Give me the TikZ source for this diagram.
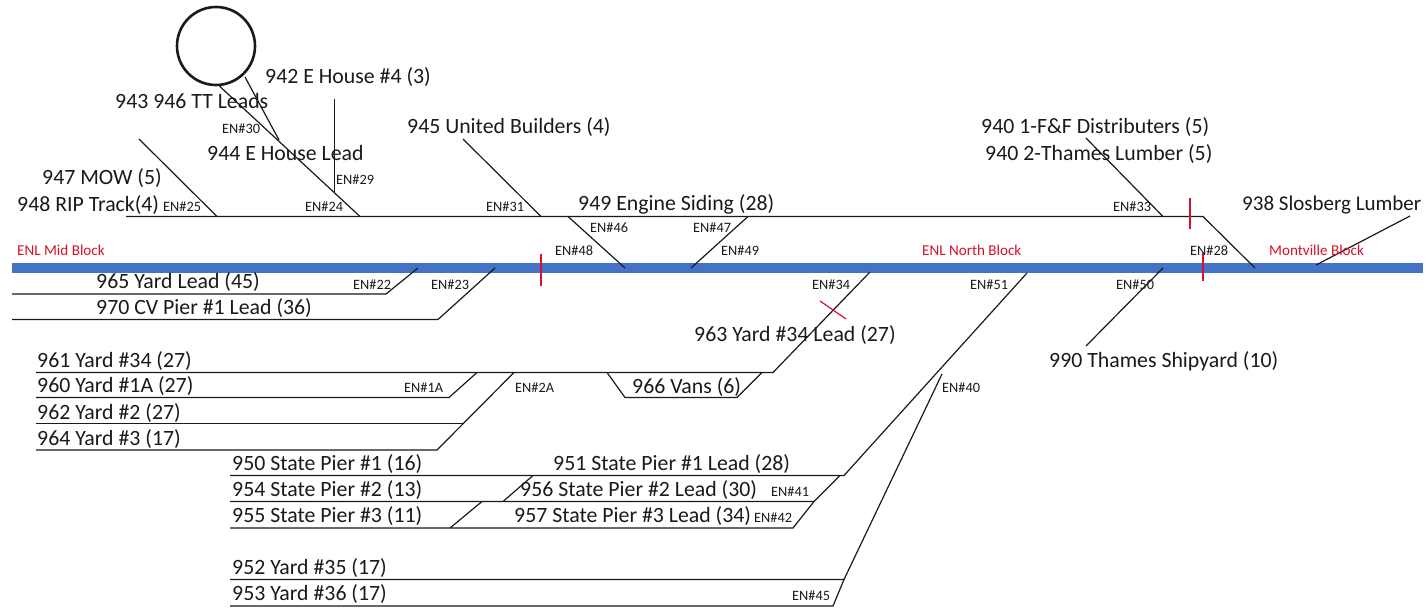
\documentclass[tikz,border=0pt]{standalone}
\usepackage{fontspec}
\setmainfont{Carlito}
\definecolor{barblue}{HTML}{4472C4}
\definecolor{ink}{HTML}{1A1A1A}
\definecolor{redtick}{HTML}{D8102C}
\tikzset{
  track/.style={draw=ink,line width=1.2pt,line join=miter},
  tick/.style={draw=redtick,line width=1.2pt},
  lbl/.style={anchor=base west,inner sep=0pt,text=ink,font=\fontsize{21.8}{24}\selectfont},
  en/.style={anchor=base west,inner sep=0pt,text=ink,font=\fontsize{14.3}{16}\selectfont},
  blk/.style={anchor=base west,inner sep=0pt,text=redtick,font=\fontsize{15.1}{17}\selectfont},
  turntable/.style={circle,draw=ink,line width=2.6pt,minimum size=78pt,inner sep=0pt}
}
\begin{document}
\begin{tikzpicture}[x=1pt,y=-1pt]
\useasboundingbox (0,0) rectangle (1427,608);
\fill[white] (0,0) rectangle (1427,608);
% main line
\fill[barblue] (12,263) rectangle (1423,273);
% turntable
\node[turntable] (tt) at (216,46) {};
% upper tracks
\coordinate (j24) at (360,216.5);
\draw[track] (126,216.5) -- (1203,216.5) -- (1255,268);
\draw[track] (tt.-85) -- (j24);
\draw[track] (245,77) -- (279,140);
\draw[track] (334.5,99) -- (334.5,192);
\draw[track] (139,139) -- (217,216.5);
\draw[track] (463,139) -- (541,216.5);
\draw[track] (568,216.5) -- (625,268);
\draw[track] (748,216.5) -- (691,268);
\draw[track] (1086,138) -- (1163,216.5);
\draw[track] (1410,216) -- (1316,265);
% lower left
\draw[track] (12,294) -- (386,294) -- (418,268);
\draw[track] (12,319.5) -- (438,319.5) -- (495,268);
\draw[track] (36,372.5) -- (773,372.5) -- (870,272);
\draw[track] (36,397.5) -- (449,397.5) -- (477,372.5);
\draw[track] (36,423.5) -- (464,423.5);
\draw[track] (36,450) -- (437,450) -- (514,372.5);
\draw[track] (607,372.5) -- (625,397.5) -- (737,397.5) -- (762,372.5);
\draw[track] (1163,268) -- (1086,346);
% state pier
\draw[track] (230,475.5) -- (844,475.5) -- (1027,273);
\draw[track] (230,501.5) -- (814,501.5) -- (840,475.5);
\draw[track] (230,528) -- (793,528) -- (814,501.5);
\draw[track] (503,501.5) -- (533,475.5);
\draw[track] (450,528) -- (482,501.5);
\draw[track] (230,579.5) -- (844,579.5) -- (942,374);
\draw[track] (230,606) -- (833,606) -- (844,579.5);
% red ticks
\draw[tick] (541,254) -- (541,286);
\draw[tick] (1190,198) -- (1190,229);
\draw[tick] (1203,253) -- (1203,281);
\draw[tick] (820,301) -- (846,319);
% labels
\node[lbl] (t942) at (265,83) {942 E House \#4 (3)};
\node[lbl] (t943) at (115,108) {943 946 TT Leads};
\node[lbl] (t944) at (207,160) {944 E House Lead};
\node[lbl] (t945) at (407,133) {945 United Builders (4)};
\node[lbl] (t947) at (42,184) {947 MOW (5)};
\node[lbl] (t948) at (17,211) {948 RIP Track(4)};
\node[lbl] (t949) at (578,210) {949 Engine Siding (28)};
\node[lbl] (t9401) at (981,133) {940 1-F\&F Distributers (5)};
\node[lbl] (t9402) at (985,160) {940 2-Thames Lumber (5)};
\node[lbl] (t938) at (1242,210) {\fontsize{21}{24}\selectfont 938 Slosberg Lumber};
\node[lbl] (t965) at (96,288) {965 Yard Lead (45)};
\node[lbl] (t970) at (96,314) {970 CV Pier \#1 Lead (36)};
\node[lbl] (t963) at (694,341) {963 Yard \#34 Lead (27)};
\node[lbl] (t990) at (1049,367) {990 Thames Shipyard (10)};
\node[lbl] (t961) at (37,367) {961 Yard \#34 (27)};
\node[lbl] (t960) at (37,392) {960 Yard \#1A (27)};
\node[lbl] (t962) at (37,419) {962 Yard \#2 (27)};
\node[lbl] (t964) at (37,445) {964 Yard \#3 (17)};
\node[lbl] (t966) at (632,393) {966 Vans (6)};
\node[lbl] (t950) at (232,470) {950 State Pier \#1 (16)};
\node[lbl] (t954) at (232,496) {954 State Pier \#2 (13)};
\node[lbl] (t955) at (232,522) {955 State Pier \#3 (11)};
\node[lbl] (t952) at (232,574) {952 Yard \#35 (17)};
\node[lbl] (t953) at (232,600) {953 Yard \#36 (17)};
\node[lbl] (t951) at (553,470) {951 State Pier \#1 Lead (28)};
\node[lbl] (t956) at (520,496) {956 State Pier \#2 Lead (30)};
\node[lbl] (t957) at (514,522) {957 State Pier \#3 Lead (34)};
% equipment numbers
\node[en] (e30) at (222,133) {EN\#30};
\node[en] (e29) at (336,184) {EN\#29};
\node[en] (e25) at (163,211) {EN\#25};
\node[en] (e24) at (305,211) {EN\#24};
\node[en] (e31) at (486,211) {EN\#31};
\node[en] (e46) at (590,232) {EN\#46};
\node[en] (e47) at (693,232) {EN\#47};
\node[en] (e48) at (555,255) {EN\#48};
\node[en] (e49) at (721,255) {EN\#49};
\node[en] (e33) at (1113,211) {EN\#33};
\node[en] (e28) at (1190,255) {EN\#28};
\node[en] (e22) at (353,289) {EN\#22};
\node[en] (e23) at (431,289) {EN\#23};
\node[en] (e34) at (812,289) {EN\#34};
\node[en] (e51) at (970,289) {EN\#51};
\node[en] (e50) at (1116,289) {EN\#50};
\node[en] (e1a) at (404,392) {EN\#1A};
\node[en] (e2a) at (515,392) {EN\#2A};
\node[en] (e40) at (942,392) {EN\#40};
\node[en] (e41) at (771,496) {EN\#41};
\node[en] (e42) at (754,522) {EN\#42};
\node[en] (e45) at (792,600) {EN\#45};
% block names
\node[blk] (b1) at (17,255) {ENL Mid Block};
\node[blk] (b2) at (922,255) {ENL North Block};
\node[blk] (b3) at (1269,255) {Montville Block};
\end{tikzpicture}
\end{document}
